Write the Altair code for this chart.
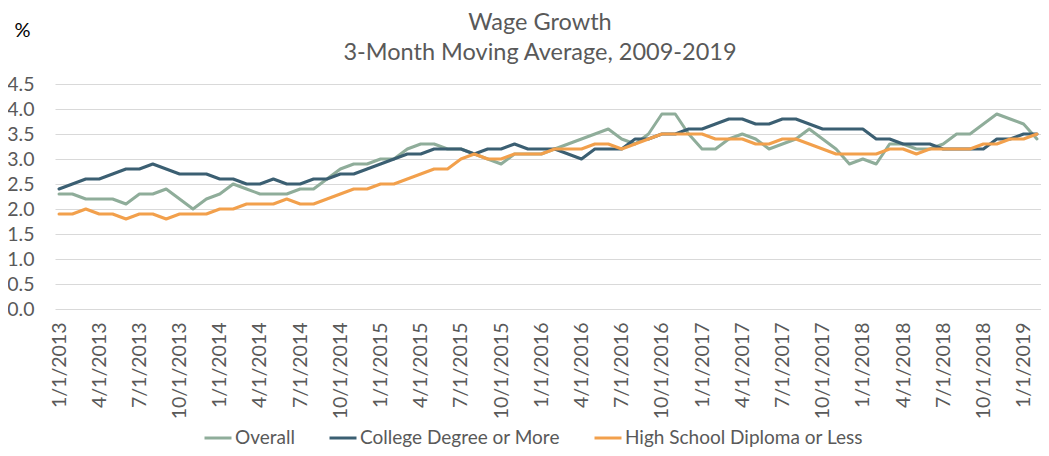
import altair as alt
import pandas as pd

# Monthly categories, Jan 2013 - Feb 2019
months = [f"{m}/1/{y}" for y in range(2013, 2020) for m in range(1, 13)][:74]
tick_months = months[::3]

overall = [
    2.3, 2.3, 2.2, 2.2, 2.2, 2.1, 2.3, 2.3, 2.4, 2.2, 2.0, 2.2, 2.3, 2.5,
    2.4, 2.3, 2.3, 2.3, 2.4, 2.4, 2.6, 2.8, 2.9, 2.9, 3.0, 3.0, 3.2, 3.3, 3.3,
    3.2, 3.2, 3.1, 3.0, 2.9, 3.1, 3.1, 3.1, 3.2, 3.3, 3.4, 3.5, 3.6, 3.4, 3.3, 3.5,
    3.9, 3.9, 3.5, 3.2, 3.2, 3.4, 3.5, 3.4, 3.2, 3.3, 3.4, 3.6, 3.4, 3.2, 2.9,
    3.0, 2.9, 3.3, 3.3, 3.2, 3.2, 3.3, 3.5, 3.5, 3.7, 3.9, 3.8, 3.7, 3.4,
]
college = [
    2.4, 2.5, 2.6, 2.6, 2.7, 2.8, 2.8, 2.9, 2.8, 2.7, 2.7, 2.7, 2.6, 2.6,
    2.5, 2.5, 2.6, 2.5, 2.5, 2.6, 2.6, 2.7, 2.7, 2.8, 2.9, 3.0, 3.1, 3.1, 3.2,
    3.2, 3.2, 3.1, 3.2, 3.2, 3.3, 3.2, 3.2, 3.2, 3.1, 3.0, 3.2, 3.2, 3.2, 3.4, 3.4,
    3.5, 3.5, 3.6, 3.6, 3.7, 3.8, 3.8, 3.7, 3.7, 3.8, 3.8, 3.7, 3.6, 3.6, 3.6,
    3.6, 3.4, 3.4, 3.3, 3.3, 3.3, 3.2, 3.2, 3.2, 3.2, 3.4, 3.4, 3.5, 3.5,
]
high_school = [
    1.9, 1.9, 2.0, 1.9, 1.9, 1.8, 1.9, 1.9, 1.8, 1.9, 1.9, 1.9, 2.0, 2.0,
    2.1, 2.1, 2.1, 2.2, 2.1, 2.1, 2.2, 2.3, 2.4, 2.4, 2.5, 2.5, 2.6, 2.7, 2.8,
    2.8, 3.0, 3.1, 3.0, 3.0, 3.1, 3.1, 3.1, 3.2, 3.2, 3.2, 3.3, 3.3, 3.2, 3.3, 3.4,
    3.5, 3.5, 3.5, 3.5, 3.4, 3.4, 3.4, 3.3, 3.3, 3.4, 3.4, 3.3, 3.2, 3.1, 3.1,
    3.1, 3.1, 3.2, 3.2, 3.1, 3.2, 3.2, 3.2, 3.2, 3.3, 3.3, 3.4, 3.4, 3.5,
]

series_names = ["Overall", "College Degree or More", "High School Diploma or Less"]
series_colors = ["#8FAD9A", "#3B5F72", "#F2A04C"]
y_ticks = [0.0, 0.5, 1.0, 1.5, 2.0, 2.5, 3.0, 3.5, 4.0, 4.5]

rows = []
for name, vals in zip(series_names, [overall, college, high_school]):
    for m, v in zip(months, vals):
        rows.append({"month": m, "series": name, "value": v})
df = pd.DataFrame(rows)

FONT = "Lato"
GREY = "#595959"

x_enc = alt.X(
    "month:O",
    sort=months,
    scale=alt.Scale(padding=0.3),
    axis=alt.Axis(
        values=tick_months,
        labelAngle=-90,
        title=None,
        ticks=False,
        domain=False,
        grid=False,
        labelFont=FONT,
        labelFontSize=19.5,
        labelColor=GREY,
        labelPadding=13,
    ),
)
y_enc = alt.Y(
    "value:Q",
    scale=alt.Scale(domain=[0, 4.5], nice=False),
    axis=alt.Axis(
        values=y_ticks,
        format=".1f",
        title="%",
        titleAngle=0,
        titleX=-33,
        titleY=-54,
        titleAlign="center",
        titleBaseline="middle",
        titleColor="#000000",
        titleFont=FONT,
        titleFontSize=20,
        titleFontWeight="normal",
        ticks=False,
        domain=False,
        grid=True,
        gridColor="#D9D9D9",
        gridWidth=1,
        labelFont=FONT,
        labelFontSize=19.5,
        labelColor=GREY,
        labelPadding=21,
    ),
)
color_enc = alt.Color(
    "series:N",
    scale=alt.Scale(domain=series_names, range=series_colors),
    legend=alt.Legend(
        title=None,
        orient="none",
        direction="horizontal",
        legendX=148,
        legendY=339,
        symbolType="stroke",
        symbolSize=729,
        symbolStrokeWidth=3,
        labelFont=FONT,
        labelFontSize=19,
        labelColor=GREY,
        labelOffset=2,
        labelLimit=0,
        columnPadding=28,
    ),
)

layers = []
for name in series_names:
    layers.append(
        alt.Chart(df)
        .transform_filter(alt.datum.series == name)
        .mark_line(strokeWidth=3, strokeJoin="round", strokeCap="round")
        .encode(x=x_enc, y=y_enc, color=color_enc)
    )

chart = (
    alt.layer(*layers)
    .properties(
        width=986,
        height=225,
        autosize=alt.AutoSizeParams(type="none"),
        padding={"left": 47, "top": 76, "right": 0, "bottom": 139},
        title=alt.TitleParams(
            text=["Wage Growth", "3-Month Moving Average, 2009-2019"],
            font=FONT,
            fontSize=23.5,
            fontWeight="normal",
            color=GREY,
            anchor="middle",
            frame="group",
            lineHeight=30,
            offset=0,
            dx=-8,
            dy=44,
        ),
    )
    .configure_view(stroke=None)
)

chart.save("out.html", embed_options={"renderer": "svg", "actions": False})
